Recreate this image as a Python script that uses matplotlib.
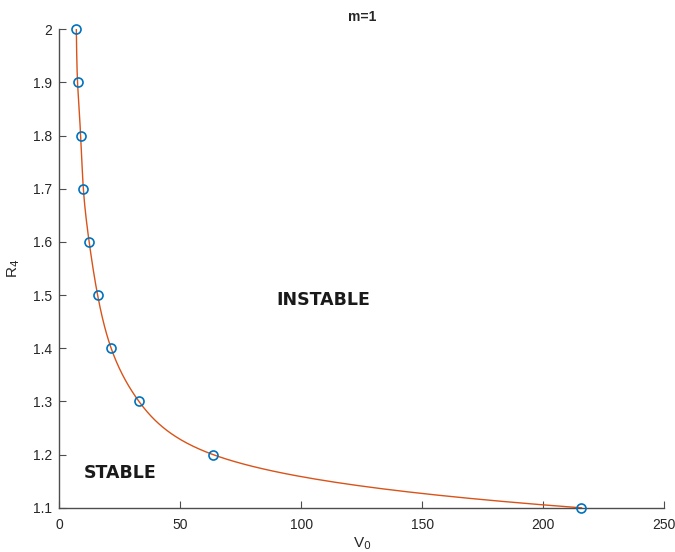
import numpy as np
import matplotlib
matplotlib.use("Agg")
import matplotlib.pyplot as plt

# Critical voltage V0 for each radius R4 (m=1)
r4 = [2.0, 1.9, 1.8, 1.7, 1.6, 1.5, 1.4, 1.3, 1.2, 1.1]
v0 = [7.0, 7.5, 8.8, 9.9, 12.3, 15.8, 21.4, 32.9, 63.6, 215.8]

x_ticks = [0, 50, 100, 150, 200, 250]
y_ticks = [1.1, 1.2, 1.3, 1.4, 1.5, 1.6, 1.7, 1.8, 1.9, 2.0]


def natural_spline(xk, yk, xs):
    xk = np.asarray(xk, float)
    yk = np.asarray(yk, float)
    n = len(xk)
    h = np.diff(xk)
    A = np.zeros((n, n))
    b = np.zeros(n)
    A[0, 0] = A[-1, -1] = 1.0
    for i in range(1, n - 1):
        A[i, i - 1] = h[i - 1]
        A[i, i] = 2 * (h[i - 1] + h[i])
        A[i, i + 1] = h[i]
        b[i] = 3 * ((yk[i + 1] - yk[i]) / h[i] - (yk[i] - yk[i - 1]) / h[i - 1])
    c = np.linalg.solve(A, b)
    out = np.empty_like(xs)
    for j, x in enumerate(xs):
        i = min(max(np.searchsorted(xk, x) - 1, 0), n - 2)
        dx = x - xk[i]
        bi = (yk[i + 1] - yk[i]) / h[i] - h[i] * (2 * c[i] + c[i + 1]) / 3
        di = (c[i + 1] - c[i]) / (3 * h[i])
        out[j] = yk[i] + bi * dx + c[i] * dx ** 2 + di * dx ** 3
    return out


# smooth curve through the points: spline of log(V0) against R4
r_sorted = np.array(r4[::-1])
logv = np.log(np.array(v0[::-1]))
r_fine = np.linspace(r_sorted[0], r_sorted[-1], 600)
v_fine = np.exp(natural_spline(r_sorted, logv, r_fine))

plt.rcParams['font.family'] = ['Liberation Sans', 'DejaVu Sans']

fig = plt.figure(figsize=(6.75, 5.52), dpi=100)
ax = fig.add_axes([0.088, 0.080, 0.896, 0.867])

ax.plot(v_fine, r_fine, color='#D95319', lw=1.0, zorder=2)
ax.plot(v0, r4, 'o', mfc='none', mec='#0072BD', ms=6.5, mew=1.2, zorder=3, clip_on=False)

ax.set_xlim(0, 250)
ax.set_ylim(1.1, 2.0)
ax.set_xticks(x_ticks)
ax.set_yticks(y_ticks)
ax.set_yticklabels([f"{t:g}" for t in y_ticks])

for s in ['top', 'right']:
    ax.spines[s].set_visible(False)
for s in ['left', 'bottom']:
    ax.spines[s].set_color('#4d4d4d')
    ax.spines[s].set_linewidth(1.0)
ax.tick_params(direction='in', length=5, width=0.8, color='#4d4d4d',
               labelsize=10, labelcolor='#262626')
ax.tick_params(axis='x', pad=7)
ax.tick_params(axis='y', pad=5)

ax.set_title('m=1', fontsize=10, fontweight='bold', color='#262626', pad=6)
ax.set_xlabel('V$_0$', fontsize=11, color='#262626', labelpad=3)
ax.set_ylabel('R$_4$', fontsize=11, color='#262626', labelpad=8)

ax.text(109, 1.49, 'INSTABLE', fontsize=12.5, fontweight='bold',
        family=['DejaVu Sans'], color='#1a1a1a', ha='center', va='center')
ax.text(25, 1.165, 'STABLE', fontsize=12.5, fontweight='bold',
        family=['DejaVu Sans'], color='#1a1a1a', ha='center', va='center')

fig.savefig('out.png', dpi=100)
